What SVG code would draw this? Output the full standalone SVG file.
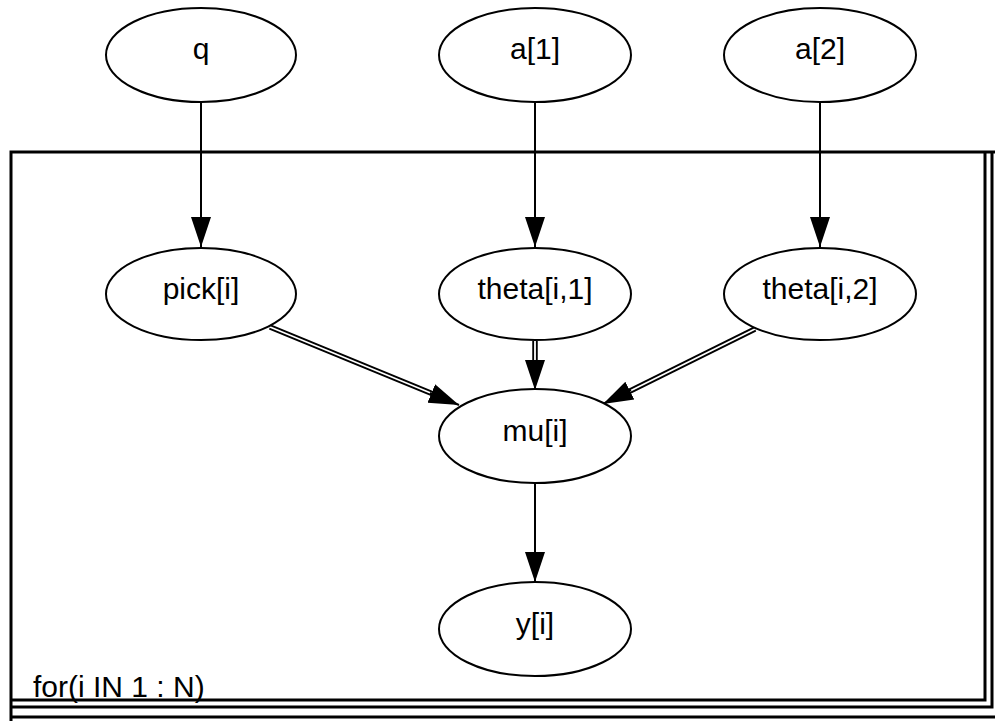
<svg xmlns="http://www.w3.org/2000/svg" width="995" height="721" viewBox="0 0 995 721">
<style>
.node ellipse{fill:#fff;stroke:#000;stroke-width:2}
.node text{font-family:"Liberation Sans",Arial,sans-serif;font-size:30px;fill:#000;text-anchor:middle}
.plate{fill:none;stroke:#000;stroke-width:3}
.lbl{font-family:"Liberation Sans",Arial,sans-serif;font-size:30px;fill:#000}
.single{stroke:#000;stroke-width:2;fill:none}
.dblo{stroke:#000;stroke-width:5.5;fill:none}
.dbli{stroke:#fff;stroke-width:1.8;fill:none}
</style>
<defs>
<marker id="ah" markerWidth="31" markerHeight="22" refX="30" refY="11" orient="auto" markerUnits="userSpaceOnUse">
<path d="M0,1 L30,11 L0,21 Z" fill="#000"/>
</marker>
</defs>
<g id="plate">
<path class="plate" d="M11,721 V152 H995"/>
<path class="plate" d="M985,152 V700 H11"/>
<path class="plate" d="M992,152 V707 H11"/>
<path class="plate" d="M11,717 H995"/>
<text class="lbl" x="33" y="697">for(i IN 1 : N)</text>
</g>
<g id="connectors">
<line class="single" x1="201" y1="102" x2="201" y2="247" marker-end="url(#ah)"/>
<line class="single" x1="535" y1="102" x2="535" y2="247" marker-end="url(#ah)"/>
<line class="single" x1="820" y1="102" x2="820" y2="247" marker-end="url(#ah)"/>
<line class="single" x1="535" y1="483" x2="535" y2="582" marker-end="url(#ah)"/>
<line class="dblo" x1="535" y1="341" x2="535" y2="365"/>
<line class="dbli" x1="535" y1="341" x2="535" y2="365"/>
<line class="single" x1="535" y1="362" x2="535" y2="390" stroke-width="0.1" marker-end="url(#ah)"/>
<line class="dblo" x1="270" y1="327" x2="438" y2="396"/>
<line class="dbli" x1="270" y1="327" x2="438" y2="396"/>
<line class="single" x1="430" y1="393" x2="459" y2="405" stroke-width="0.1" marker-end="url(#ah)"/>
<line class="dblo" x1="755" y1="329" x2="624" y2="394"/>
<line class="dbli" x1="755" y1="329" x2="624" y2="394"/>
<line class="single" x1="631" y1="390" x2="603" y2="404" stroke-width="0.1" marker-end="url(#ah)"/>
</g>
<g id="q" class="node"><ellipse cx="201" cy="55" rx="95" ry="47"/><text x="201" y="59">q</text></g>
<g id="a1" class="node"><ellipse cx="535" cy="55" rx="96" ry="47"/><text x="535" y="59">a[1]</text></g>
<g id="a2" class="node"><ellipse cx="820" cy="55" rx="96" ry="47"/><text x="820" y="59">a[2]</text></g>
<g id="pick" class="node"><ellipse cx="201" cy="294" rx="95" ry="46"/><text x="201" y="299">pick[i]</text></g>
<g id="theta1" class="node"><ellipse cx="535" cy="294" rx="96" ry="46"/><text x="535" y="299">theta[i,1]</text></g>
<g id="theta2" class="node"><ellipse cx="820" cy="294" rx="96" ry="46"/><text x="820" y="299">theta[i,2]</text></g>
<g id="mu" class="node"><ellipse cx="535" cy="436" rx="96" ry="47"/><text x="535" y="441">mu[i]</text></g>
<g id="y" class="node"><ellipse cx="535" cy="629" rx="96" ry="47"/><text x="535" y="634">y[i]</text></g>
</svg>
